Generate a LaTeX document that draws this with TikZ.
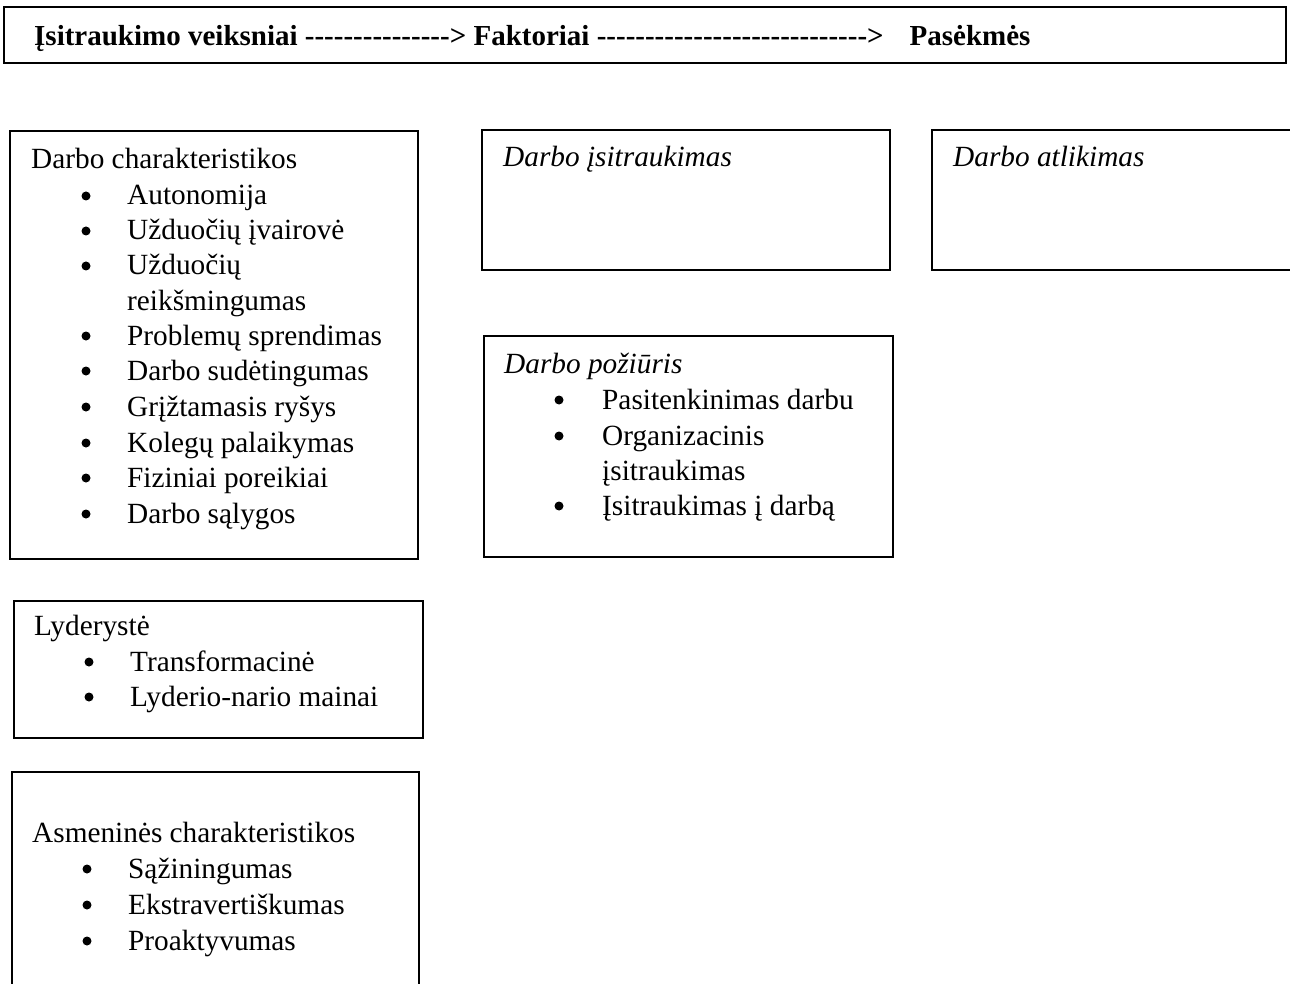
\documentclass[tikz,border=0pt]{standalone}
\usepackage{fontspec}
\setmainfont{Liberation Serif}
\usetikzlibrary{positioning}

% a run of plain hyphens that TeX must not join into dashes
\newcommand\hyphenrun[1]{\foreach \k in {1,...,#1}{-\kern0pt}}

\tikzset{
  frame/.style={draw=black, line width=1.7pt, inner sep=0pt, outer sep=0pt, anchor=north west},
  headtext/.style={anchor=base west, inner sep=0pt, font=\fontsize{29}{34}\selectfont\bfseries},
  title/.style={anchor=base west, inner sep=0pt, font=\fontsize{29.3}{35.5}\selectfont},
  ititle/.style={title, font=\fontsize{29.3}{35.5}\selectfont\itshape},
  item/.style={anchor=base west, inner sep=0pt, font=\fontsize{29.3}{35.5}\selectfont},
  dot/.style={circle, fill=black, inner sep=0pt, minimum size=9pt},
}

\begin{document}
\begin{tikzpicture}[x=1pt, y=-1pt]
\useasboundingbox (0,0) rectangle (1290,984);

% heading bar
\node[frame, minimum width=1282pt, minimum height=56pt] (bar) at (4,7) {};
\node[headtext] (head) at (34,46)
  {Įsitraukimo veiksniai \hyphenrun{15}> Faktoriai \hyphenrun{28}>\hspace{26pt}Pasėkmės};

% --- Darbo charakteristikos ---
\node[frame, minimum width=408pt, minimum height=428pt] (b1) at (10,131) {};
\node[title] (b1t) at (31,169) {Darbo charakteristikos};
\foreach \y/\txt [count=\i] in {205/Autonomija, 240/Užduočių įvairovė, 275/Užduočių,
    345/Problemų sprendimas, 380/Darbo sudėtingumas, 416/Grįžtamasis ryšys,
    452/Kolegų palaikymas, 487/Fiziniai poreikiai, 523/Darbo sąlygos}{
  \node[dot] (b1d\i) at (86,\y-9) {};
  \node[item] (b1i\i) at (127,\y) {\txt};
}
\node[item] (b1c) at (127,310) {reikšmingumas};

% --- Darbo įsitraukimas ---
\node[frame, minimum width=408pt, minimum height=140pt] (b2) at (482,130) {};
\node[ititle] (b2t) at (503,167) {Darbo įsitraukimas};

% --- Darbo atlikimas ---
\node[frame, minimum width=380pt, minimum height=140pt] (b3) at (932,130) {};
\node[ititle] (b3t) at (953,167) {Darbo atlikimas};

% --- Darbo požiūris ---
\node[frame, minimum width=409pt, minimum height=221pt] (b4) at (484,336) {};
\node[ititle] (b4t) at (504,373) {Darbo požiūris};
\foreach \y/\txt [count=\i] in {409/Pasitenkinimas darbu, 445/Organizacinis,
    515/Įsitraukimas į darbą}{
  \node[dot] (b4d\i) at (559,\y-9) {};
  \node[item] (b4i\i) at (602,\y) {\txt};
}
\node[item] (b4c) at (602,480) {įsitraukimas};

% --- Lyderystė ---
\node[frame, minimum width=409pt, minimum height=137pt] (b5) at (14,601) {};
\node[title] (b5t) at (34,635) {Lyderystė};
\foreach \y/\txt [count=\i] in {671/Transformacinė, 706/Lyderio-nario mainai}{
  \node[dot] (b5d\i) at (89,\y-9) {};
  \node[item] (b5i\i) at (130,\y) {\txt};
}

% --- Asmeninės charakteristikos ---
\node[frame, minimum width=407pt, minimum height=240pt] (b6) at (12,772) {};
\node[title] (b6t) at (32,842) {Asmeninės charakteristikos};
\foreach \y/\txt [count=\i] in {878/Sąžiningumas, 914/Ekstravertiškumas, 950/Proaktyvumas}{
  \node[dot] (b6d\i) at (87,\y-9) {};
  \node[item] (b6i\i) at (128,\y) {\txt};
}
\end{tikzpicture}
\end{document}
